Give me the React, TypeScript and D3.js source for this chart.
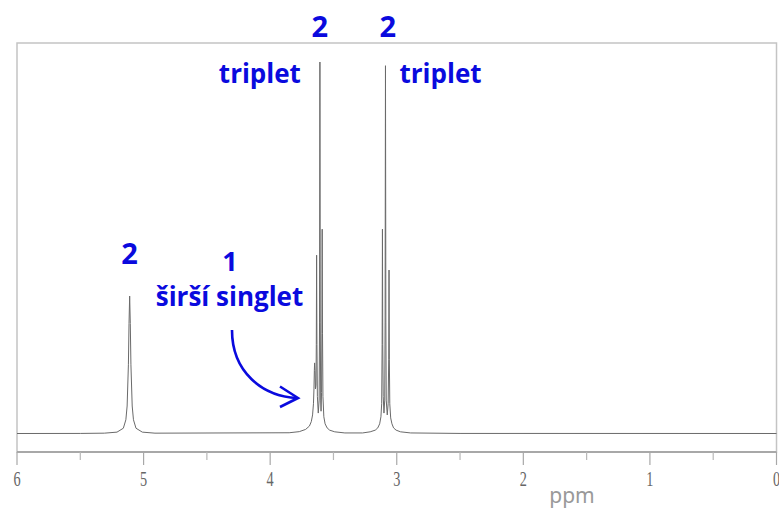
import React from "react";
import * as d3 from "d3";

// ---- data (ppm, relative intensity; tallest line = 100) ----
const majorTicks = [6, 5, 4, 3, 2, 1, 0];
const minorTicks = [5.5, 4.5, 3.5, 2.5, 1.5, 0.5];
const tickLabels = ["6", "5", "4", "3", "2", "1", "0"];

const baselineLeft: [number, number][] = [[6.0, 0], [5.5, 0.02]];
const peak511: [number, number][] = [
  [5.31, 0.09], [5.21, 0.37], [5.16, 1.42], [5.14, 3.7], [5.13, 7.4], [5.12, 18.5],
  [5.115, 29.6], [5.11, 37], [5.105, 29.6], [5.1, 18.5], [5.09, 7.4], [5.08, 3.7],
  [5.06, 1.42], [5.01, 0.37], [4.91, 0.09],
];
const group361: [number, number][] = [
  [3.85, 0.2], [3.77, 0.5], [3.72, 1.1], [3.69, 2.0], [3.675, 3.2], [3.665, 5],
  [3.658, 8], [3.654, 12], [3.651, 17], [3.649, 19], [3.646, 17], [3.642, 12],
  [3.638, 13], [3.6355, 24], [3.633, 48], [3.6305, 24], [3.627, 10], [3.62, 5.5],
  [3.613, 9], [3.61, 30], [3.607, 100], [3.604, 30], [3.601, 9], [3.598, 6],
  [3.594, 11], [3.5915, 27], [3.589, 55], [3.5865, 27], [3.583, 10], [3.576, 4.5],
  [3.566, 2.6], [3.55, 1.5], [3.53, 0.9], [3.49, 0.45], [3.41, 0.15],
];
const group309: [number, number][] = [
  [3.27, 0.15], [3.21, 0.45], [3.17, 0.9], [3.15, 1.5], [3.135, 2.6], [3.125, 4.5],
  [3.119, 8], [3.1155, 24], [3.113, 55], [3.1105, 24], [3.107, 10], [3.101, 5.5],
  [3.095, 9], [3.092, 30], [3.089, 99], [3.086, 30], [3.083, 9], [3.075, 5],
  [3.068, 8], [3.0635, 20], [3.061, 44], [3.0585, 20], [3.055, 8], [3.048, 4.2],
  [3.038, 2.6], [3.025, 1.5], [3.005, 0.9], [2.97, 0.45], [2.89, 0.15],
];
const baselineRight: [number, number][] = [[2.5, 0.02], [0.0, 0]];

const annotations = [
  { text: "2", ppm: 3.607, dy: -25, size: 29, anchor: "middle", dx: 0 },
  { text: "2", ppm: 3.07, dy: -25, size: 29, anchor: "middle", dx: 0 },
  { text: "triplet", ppm: 3.607, dy: 21, size: 26, anchor: "end", dx: -19 },
  { text: "triplet", ppm: 3.089, dy: 21, size: 26, anchor: "start", dx: 14 },
];

const W = 779;
const H = 511;
const BLUE = "#0a0ade";

export default function App() {
  const x = d3.scaleLinear().domain([6, 0]).range([17, 776.5]);
  const y = d3.scaleLinear().domain([0, 100]).range([433.5, 62]);

  const pts = [...baselineLeft, ...peak511, ...group361, ...group309, ...baselineRight].sort(
    (a, b) => b[0] - a[0]
  );
  const line = d3
    .line<[number, number]>()
    .x((d) => x(d[0]))
    .y((d) => y(d[1]));

  const frameTop = 43;
  const axisY = 452;
  const topY = y(100);

  return (
    <svg
      width={W}
      height={H}
      style={{ position: "absolute", left: 0, top: 0, background: "#fff" }}
    >
      <rect x={0} y={0} width={W} height={H} fill="#fff" />
      {/* frame */}
      <rect
        x={x(6)}
        y={frameTop}
        width={x(0) - x(6)}
        height={axisY - frameTop}
        fill="none"
        stroke="#c4c4c4"
        strokeWidth={1.5}
      />
      <line x1={x(6)} x2={x(0)} y1={axisY} y2={axisY} stroke="#9a9a9a" strokeWidth={1.3} />
      {majorTicks.map((t) => (
        <line key={"M" + t} x1={x(t)} x2={x(t)} y1={axisY} y2={axisY + 13} stroke="#a8a8a8" strokeWidth={1.2} />
      ))}
      {minorTicks.map((t) => (
        <line key={"m" + t} x1={x(t)} x2={x(t)} y1={axisY} y2={axisY + 8} stroke="#b8b8b8" strokeWidth={1.2} />
      ))}
      {majorTicks.map((t, i) => (
        <text
          key={"L" + t}
          transform={`translate(${x(t)},485.5) scale(0.68,1)`}
          textAnchor="middle"
          fontFamily="'Liberation Serif', serif"
          fontSize={21}
          fill="#666"
        >
          {tickLabels[i]}
        </text>
      ))}
      <text x={572} y={503} textAnchor="middle" fontFamily="'Noto Sans', sans-serif" fontSize={21} fill="#999">
        ppm
      </text>

      {/* spectrum */}
      <path d={line(pts) || ""} fill="none" stroke="#6a6a6a" strokeWidth={1} strokeLinejoin="round" />

      {/* annotations */}
      {annotations.map((a, i) => (
        <text
          key={"a" + i}
          x={x(a.ppm) + a.dx}
          y={topY + a.dy}
          textAnchor={a.anchor as any}
          fontFamily="'Open Sans', sans-serif"
          fontWeight={700}
          fontSize={a.size}
          fill={BLUE}
        >
          {a.text}
        </text>
      ))}
      <text x={x(5.11)} y={264} textAnchor="middle" fontFamily="'Open Sans', sans-serif" fontWeight={700} fontSize={29} fill={BLUE}>
        2
      </text>
      <text x={230} y={271} textAnchor="middle" fontFamily="'Open Sans', sans-serif" fontWeight={700} fontSize={27} fill={BLUE}>
        1
      </text>
      <text x={229.5} y={306} textAnchor="middle" fontFamily="'Open Sans', sans-serif" fontWeight={700} fontSize={26} fill={BLUE}>
        širší singlet
      </text>
      <path d="M232,330 C232,372 262,396 297,398" fill="none" stroke={BLUE} strokeWidth={2.6} />
      <path d="M280,386.5 L298,398 L280,407" fill="none" stroke={BLUE} strokeWidth={2.6} strokeLinejoin="miter" />
    </svg>
  );
}
